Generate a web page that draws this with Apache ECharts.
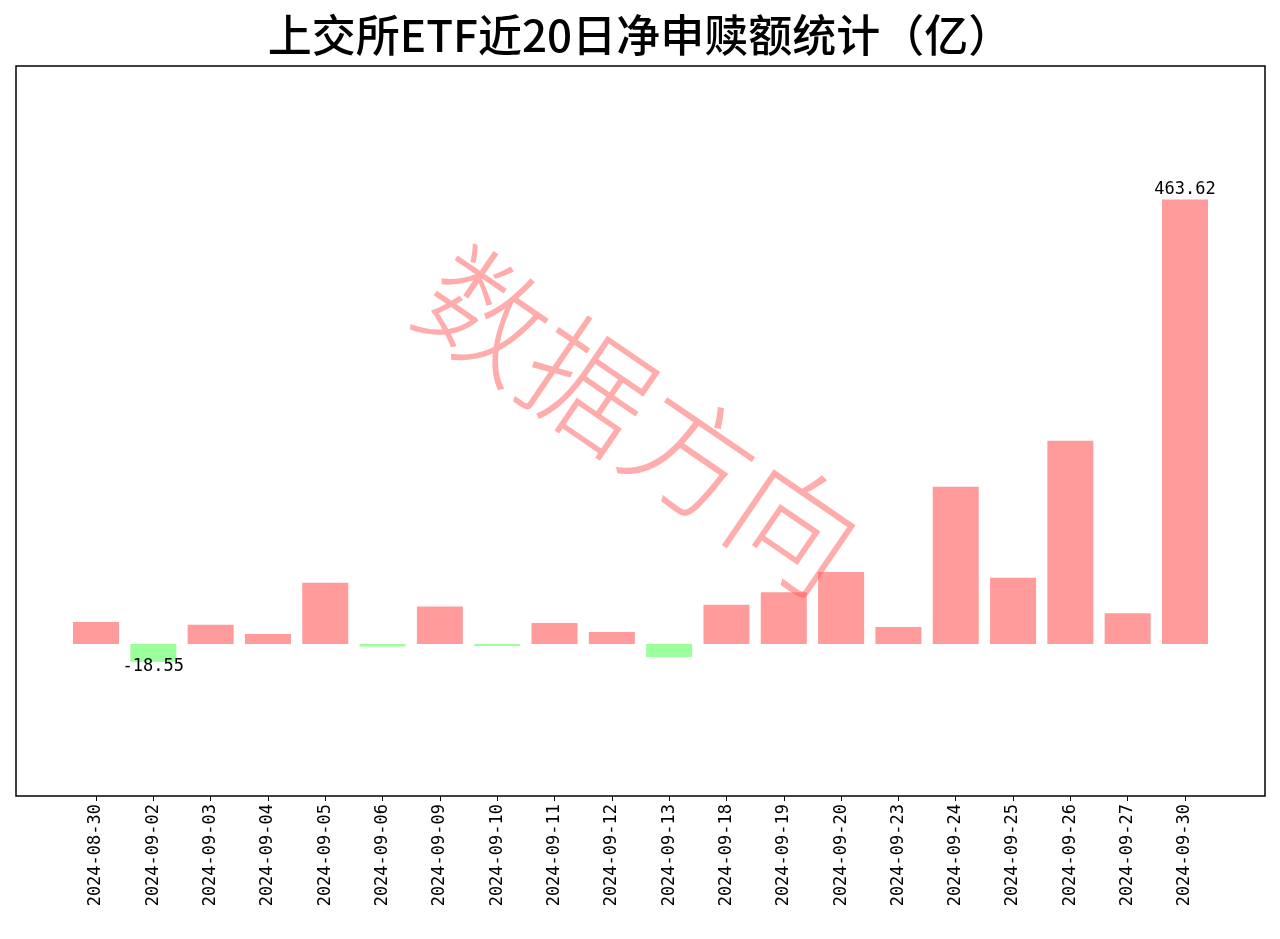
<!DOCTYPE html>
<html><head><meta charset="utf-8">
<script src="https://cdn.jsdelivr.net/npm/echarts@6/dist/echarts.min.js"></script>
<style>html,body{margin:0;padding:0;background:#fff}#c{width:1280px;height:939px}</style>
</head><body><div id="c"></div>
<script>
const categories = ['2024-08-30','2024-09-02','2024-09-03','2024-09-04','2024-09-05','2024-09-06','2024-09-09','2024-09-10','2024-09-11','2024-09-12','2024-09-13','2024-09-18','2024-09-19','2024-09-20','2024-09-23','2024-09-24','2024-09-25','2024-09-26','2024-09-27','2024-09-30'];
const values = [23, -18.55, 20, 10.5, 64, -2.5, 39, -2, 22, 12.5, -13.6, 41, 54, 75, 17.7, 164, 69, 212, 32, 463.62];
const labeled = {1: '-18.55', 19: '463.62'};
const chart = echarts.init(document.getElementById('c'));
chart.setOption({
  animation: false,
  title: {text: '上交所ETF近20日净申赎额统计（亿）', left: 'center', top: 8,
    textStyle: {fontSize: 44, fontWeight: 500, color: '#000', fontFamily: 'Noto Sans CJK SC'}},
  grid: {left: 67.35, right: 1280 - 1213.65, top: 66, bottom: 939 - 796},
  xAxis: {type: 'category', data: categories, axisLine: {show: false, onZero: false},
    axisTick: {show: true, alignWithLabel: true, length: 5, lineStyle: {color: '#000'}},
    axisLabel: {rotate: 90, fontSize: 17, color: '#000', fontFamily: 'DejaVu Sans Mono', interval: 0, margin: 8}},
  yAxis: {type: 'value', min: -158.6, max: 603, show: false, splitLine: {show: false}},
  series: [{type: 'bar', barWidth: 46,
    data: values.map((v, i) => ({value: v,
      itemStyle: {color: v >= 0 ? '#ff9b9b' : '#9bff9b'},
      label: labeled[i] ? {show: true, position: v >= 0 ? 'top' : 'bottom', formatter: labeled[i],
        fontSize: 17, color: '#000', fontFamily: 'DejaVu Sans Mono', distance: v >= 0 ? 2 : -4} : {show: false}}))}],
  graphic: [
    {type: 'rect', shape: {x: 16, y: 66, width: 1249, height: 730}, style: {fill: 'none', stroke: '#000', lineWidth: 1.5}, z: 10},
    {type: 'text', x: 640, y: 420, rotation: -0.6, originX: 0, originY: 0,
      style: {text: '数据方向', fontSize: 125, fontWeight: 300, fill: 'rgba(255,90,90,0.5)', fontFamily: 'Noto Sans CJK SC', align: 'center', verticalAlign: 'middle'}, z: 20}
  ]
});
</script></body></html>
